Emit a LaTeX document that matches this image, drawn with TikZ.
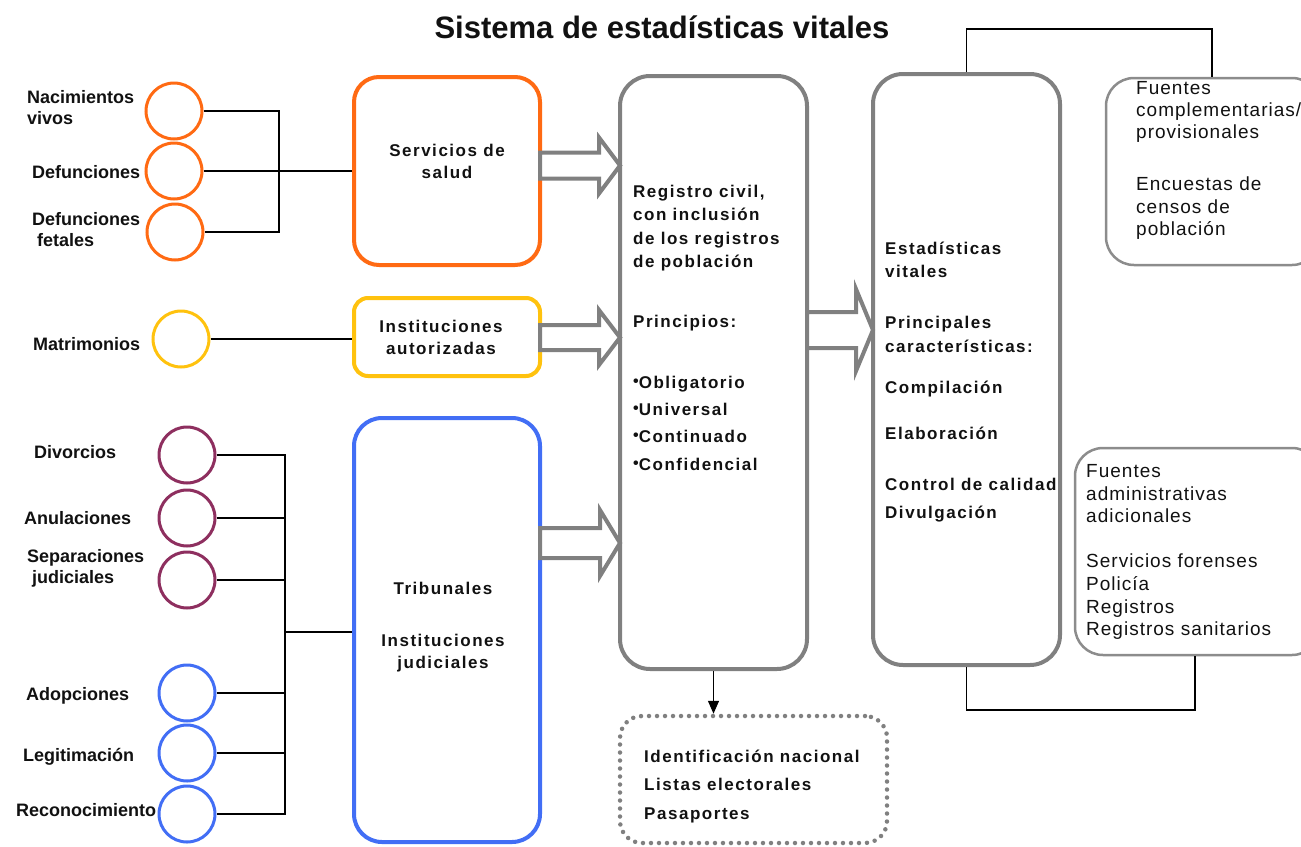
\documentclass[tikz,border=0pt]{standalone}
\usepackage{fontspec}
\setmainfont{Liberation Sans}
\newfontfamily\lsfam{Liberation Sans}[LetterSpace=9]
\newfontfamily\lrfam{Liberation Sans}[LetterSpace=5.3]
\usetikzlibrary{arrows.meta}
\definecolor{corange}{RGB}{255,106,19}
\definecolor{cyellow}{RGB}{255,194,14}
\definecolor{cpurple}{RGB}{142,47,95}
\definecolor{cblue}{RGB}{66,110,245}
\definecolor{cgray}{RGB}{128,128,128}
\definecolor{clgray}{RGB}{140,140,140}
\definecolor{ctext}{RGB}{17,17,17}
\newcommand\bul{{\normalfont\bfseries\fontsize{16}{16}\selectfont\raisebox{2pt}{•}}}
\newcommand\hollowarrow[6]{%
  \draw[harrow] (#1,{#3-#4}) -- (#6,{#3-#4}) -- (#6,{#3-#5}) -- (#2,#3) -- (#6,{#3+#5}) -- (#6,{#3+#4}) -- (#1,{#3+#4}) -- cycle;}
\begin{document}
\begin{tikzpicture}[x=1pt,y=-1pt,
  circ/.style={circle, draw, line width=3pt, minimum size=56pt, inner sep=0pt},
  bigbox/.style={draw, line width=4pt, inner sep=0pt},
  sidebox/.style={draw=clgray, line width=2.5pt, inner sep=0pt, rounded corners=28pt},
  lab/.style={font=\fontsize{18}{21}\selectfont\bfseries, text=ctext, align=left, inner sep=0pt, anchor=west},
  boxlab/.style={font=\lsfam\bfseries\fontsize{17}{22}\selectfont, text=ctext, align=center, inner sep=0pt},
  btxt/.style={font=\lsfam\bfseries\fontsize{17}{23.3}\selectfont, text=ctext, align=left, inner sep=0pt, anchor=west},
  rtxt/.style={font=\lrfam\fontsize{19}{22.5}\selectfont, text=ctext, align=left, inner sep=0pt, anchor=west},
  harrow/.style={draw=cgray, fill=white, line width=4pt, line join=miter},
  conn/.style={draw=black, line width=1.5pt}]
\useasboundingbox (0,0) rectangle (1301,846);

% title
\node[font=\fontsize{31}{36}\selectfont\bfseries, text=ctext, inner sep=0pt] (title) at (662,27) {Sistema de estadísticas vitales};

% main boxes
\node[bigbox, draw=corange, rounded corners=25pt, minimum width=186pt, minimum height=188pt] (salud) at (447,171) {};
\node[bigbox, draw=cyellow, rounded corners=14pt, minimum width=186pt, minimum height=78pt] (aut) at (447,337) {};
\node[bigbox, draw=cblue, rounded corners=28pt, minimum width=186pt, minimum height=424pt] (trib) at (447,630) {};
\node[bigbox, draw=cgray, rounded corners=30pt, minimum width=187pt, minimum height=593pt] (reg) at (713.5,372.5) {};
\node[bigbox, draw=cgray, rounded corners=30pt, minimum width=187pt, minimum height=591pt] (estad) at (966.5,369.5) {};
\node[sidebox, minimum width=214pt, minimum height=187pt] (compl) at (1213,171.5) {};
\node[sidebox, minimum width=245pt, minimum height=207pt] (admin) at (1197.5,551.5) {};
\node[draw=cgray, line width=4.5pt, dash pattern=on 0pt off 8pt, line cap=round, rounded corners=22pt, minimum width=267pt, minimum height=127pt, inner sep=0pt] (dot) at (753.5,779.5) {};

% box labels
\node[boxlab] (saludt) at (447,161.5) {Servicios de\\salud};
\node[boxlab] (autt) at (441,337) {Instituciones\\autorizadas};
\node[boxlab] (tribt1) at (443,588) {Tribunales};
\node[boxlab] (tribt2) at (443,653.5) {Instituciones\\judiciales};

% registro text
\node[btxt] (r1) at (633,228) {Registro civil,\\con inclusión\\de los registros\\de población};
\node[btxt] (r2) at (633,323) {Principios:};
\node[btxt, font=\lsfam\bfseries\fontsize{17}{27.3}\selectfont] (r3) at (633,423) {\bul Obligatorio\\\bul Universal\\\bul Continuado\\\bul Confidencial};

% estadisticas text
\node[btxt] (e1) at (885,259.5) {Estadísticas\\vitales};
\node[btxt] (e2) at (885,334.5) {Principales\\características:};
\node[btxt] (e3) at (885,389) {Compilación};
\node[btxt] (e4) at (885,433) {Elaboración};
\node[btxt] (e5) at (885,484) {Control de calidad};
\node[btxt] (e6) at (885,514) {Divulgación};

% side texts
\node[rtxt, font=\lrfam\fontsize{19}{22}\selectfont] (c1) at (1136,112) {Fuentes\\complementarias/\\provisionales};
\node[rtxt] (c2) at (1136,208.5) {Encuestas de\\censos de\\población};
\node[rtxt] (a1) at (1086,494) {Fuentes\\administrativas\\adicionales};
\node[rtxt, font=\lrfam\fontsize{19}{22.7}\selectfont] (a2) at (1086,597) {Servicios forenses\\Policía\\Registros\\Registros sanitarios};

% dotted box text
\node[btxt, font=\lsfam\bfseries\fontsize{17}{28.5}\selectfont] (d1) at (644,786.5) {Identificación nacional\\Listas electorales\\Pasaportes};

% circles
\node[circ, draw=corange] (o1) at (174,111) {};
\node[circ, draw=corange] (o2) at (174,171) {};
\node[circ, draw=corange] (o3) at (175,232) {};
\node[circ, draw=cyellow] (y1) at (181,339) {};
\node[circ, draw=cpurple] (p1) at (187,455) {};
\node[circ, draw=cpurple] (p2) at (187,518) {};
\node[circ, draw=cpurple] (p3) at (187,580) {};
\node[circ, draw=cblue] (b1) at (187,693) {};
\node[circ, draw=cblue] (b2) at (187,753) {};
\node[circ, draw=cblue] (b3) at (187,814) {};

% left labels
\node[lab] (lo1) at (27,107.5) {Nacimientos\\vivos};
\node[lab] (lo2) at (32,172) {Defunciones};
\node[lab] (lo3) at (32,229.5) {Defunciones\\\hspace*{5pt}fetales};
\node[lab] (ly1) at (33,344) {Matrimonios};
\node[lab] (lp1) at (34,452) {Divorcios};
\node[lab] (lp2) at (24,518) {Anulaciones};
\node[lab] (lp3) at (27,568.5) {Separaciones\\\hspace*{5pt}judiciales};
\node[lab] (lb1) at (26,696) {Adopciones};
\node[lab] (lb2) at (23,757) {Legitimación};
\node[lab] (lb3) at (16,810) {Reconocimiento};

% connectors left
\coordinate (jo) at (279,171);
\draw[conn] (o1.east) -| (jo) |- (o3.east);
\draw[conn, line width=2pt] (o2.east) -- (o2.east -| salud.west);
\draw[conn] (y1.east) -- (y1.east -| aut.west);
\coordinate (jt) at (285,632);
\draw[conn] (p1.east) -| (b3.east -| jt) -- (b3.east);
\draw[conn] (p2.east) -- (p2.east -| jt);
\draw[conn] (p3.east) -- (p3.east -| jt);
\draw[conn] (b1.east) -- (b1.east -| jt);
\draw[conn] (b2.east) -- (b2.east -| jt);
\draw[conn] (jt) -- (jt -| trib.west);

% hollow arrows
\hollowarrow{540}{620}{165.5}{13}{28}{599}
\hollowarrow{540}{620}{337.5}{12.5}{27.5}{599}
\hollowarrow{540}{620}{543}{15}{33}{600}
\hollowarrow{807}{873}{330}{18}{41}{856}

% right connectors
\coordinate (tp) at (1212,29);
\draw[conn] (estad.north) |- (tp) -- (tp |- compl.north);
\coordinate (bp) at (1195,710);
\draw[conn] (estad.south) |- (bp) -- (bp |- admin.south);

% down arrow
\draw[conn, line width=1.3pt, -{Triangle[length=13pt,width=11pt]}] (reg.south) -- (reg.south |- dot.north);
\end{tikzpicture}
\end{document}
